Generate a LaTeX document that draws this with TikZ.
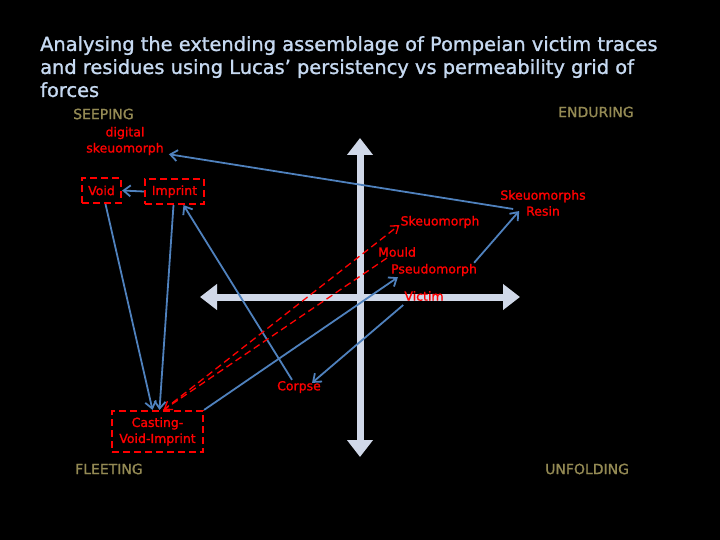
\documentclass[tikz,border=0pt]{standalone}
\usepackage{fontspec}
\setmainfont{DejaVu Sans}[FakeBold=1.2]
\usetikzlibrary{arrows.meta}
\definecolor{PmTitle}{HTML}{C6D9F1}
\definecolor{PmOlive}{HTML}{948A54}
\definecolor{PmRed}{HTML}{FF0000}
\definecolor{PmBlue}{HTML}{4F81BD}
\definecolor{PmAxis}{HTML}{D0D8E8}

\begin{document}
\begin{tikzpicture}[x=1pt,y=-1pt,
  lbl/.style={text=PmRed,font=\fontsize{12.5}{16}\selectfont,align=center,inner sep=1pt},
  box/.style={lbl,draw=PmRed,dash pattern=on 7pt off 4pt,line width=2.2pt,inner sep=0pt},
  corner/.style={text=PmOlive,font=\fontsize{14}{16}\selectfont,inner sep=0pt,anchor=west},
  link/.style={-{Straight Barb[length=7pt,width=11pt]},draw=PmBlue,line width=1.8pt},
  trace/.style={-{Straight Barb[length=7pt,width=10pt]},draw=PmRed,line width=1.3pt,dash pattern=on 7pt off 4pt},
  axis/.style={{Triangle[length=17pt,width=25pt]}-{Triangle[length=17pt,width=25pt]},draw=PmAxis,line width=7pt}
]
\fill[black] (0,0) rectangle (720,540);
\useasboundingbox (0,0) rectangle (720,540);

\node[anchor=north west,text=PmTitle,font=\fontsize{19.4}{23}\selectfont,align=left,inner sep=0pt] (title) at (40,36)
  {Analysing the extending assemblage of Pompeian victim traces\\and residues using Lucas’ persistency vs permeability grid of\\forces};

% persistency vs permeability grid
\coordinate (ytop) at (360,138);
\coordinate (ybot) at (360,457);
\coordinate (xleft) at (200,297);
\coordinate (xright) at (520,297);
\draw[axis] (ytop) -- (ybot);
\draw[axis] (xleft) -- (xright);

\node[corner] (seeping) at (73,114) {SEEPING};
\node[corner] (enduring) at (558,112) {ENDURING};
\node[corner] (fleeting) at (75,469) {FLEETING};
\node[corner] (unfolding) at (545,469) {UNFOLDING};

% traces and residues
\node[lbl] (digital) at (125,141) {digital\\skeuomorph};
\node[box,minimum width=39pt,minimum height=25pt] (void) at (101.5,190.5) {Void};
\node[box,minimum width=59pt,minimum height=25pt] (imprint) at (174.5,191.5) {Imprint};
\node[box,minimum width=91pt,minimum height=41pt] (casting) at (157.5,431.5) {Casting-\\Void-Imprint};
\node[lbl] (resin) at (543,203) {Skeuomorphs\\Resin};
\node[lbl] (skeuo) at (440,222) {Skeuomorph};
\node[lbl] (mould) at (397,252) {Mould};
\node[lbl] (pseudo) at (434,270) {Pseudomorph};
\node[lbl] (victim) at (424,296) {Victim};
\node[lbl] (corpse) at (299,387) {Corpse};

\draw[link] ([xshift=14pt,yshift=-6pt]resin.west) -- ([xshift=4pt,yshift=2pt]digital.south east);
\draw[link] (imprint.west) -- (void.east);
\draw[link] ([xshift=4pt]void.south) -- ([xshift=-5pt]casting.north);
\draw[link] ([xshift=-1pt]imprint.south) -- ([xshift=2pt]casting.north);
\draw[link] ([xshift=-7pt]corpse.north) -- ([xshift=9pt]imprint.south);
\draw[trace] ([xshift=6pt]casting.north) -- ([yshift=-3pt]skeuo.west);
\draw[trace] ([xshift=10pt]mould.south west) -- ([xshift=6pt]casting.north);
\draw[link] (casting.north east) -- ([xshift=8pt]pseudo.south west);
\draw[link] ([xshift=-4pt]pseudo.north east) -- ([xshift=20pt,yshift=6pt]resin.south west);
\draw[link] ([yshift=-3pt]victim.south west) -- ([xshift=-10pt,yshift=-3pt]corpse.north east);
\end{tikzpicture}
\end{document}
